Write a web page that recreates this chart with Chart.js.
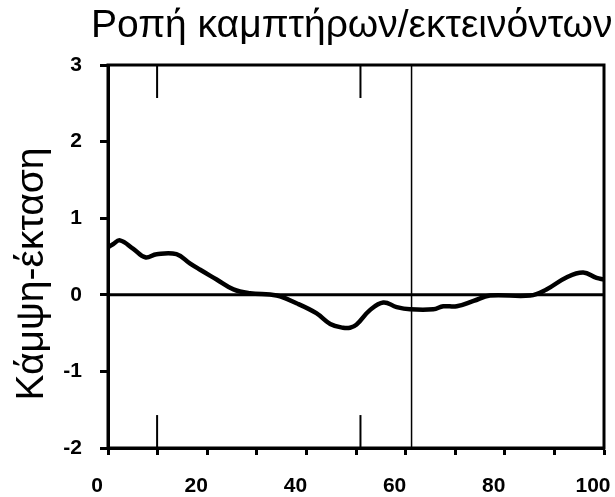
<!DOCTYPE html>
<html>
<head>
<meta charset="utf-8">
<script src="https://cdn.jsdelivr.net/npm/chart.js@4"></script>
<style>
  body { margin: 0; background: #fff; }
  #wrap { width: 615px; height: 497px; }
</style>
</head>
<body>
<div id="wrap"><canvas id="myChart" width="615" height="497"></canvas></div>
<script>
const TITLE = 'Ροπή καμπτήρων/εκτεινόντων';
const Y_TITLE = 'Κάμψη-έκταση';

// curve (% of cycle -> moment)
const cycle = [0, 1, 2.4, 5.1, 7.5, 9.8, 13.8, 16.5, 18.5, 21.9, 25.3, 28.6, 34, 38, 42, 44.8, 47.4, 48.8, 50.1, 52.8, 55.5, 58.2, 60.9, 65.6, 67.6, 70.3, 73.7, 77, 85.1, 88.4, 92.5, 95.8, 98.5, 100];
const moment = [0.62, 0.66, 0.71, 0.60, 0.49, 0.53, 0.53, 0.41, 0.33, 0.20, 0.07, 0.02, -0.01, -0.11, -0.24, -0.38, -0.43, -0.43, -0.39, -0.20, -0.10, -0.16, -0.19, -0.19, -0.15, -0.15, -0.08, -0.01, -0.01, 0.07, 0.23, 0.29, 0.22, 0.20];

// event markers
const shortMarks = [9.9, 50.9];
const markLen = 0.43;
const toeOff = 61.2;

const xTicks = [0, 20, 40, 60, 80, 100];
const yMin = -2, yMax = 3;

const FONT = '"Liberation Sans", Arial, sans-serif';

const draw = () => {
  const datasets = [
    {
      data: cycle.map((x, i) => ({ x: x, y: moment[i] })),
      borderColor: '#000',
      borderWidth: 4.5,
      pointRadius: 0,
      tension: 0.4,
    },
    // zero line
    { data: [{ x: 0, y: 0 }, { x: 100, y: 0 }], borderColor: '#000', borderWidth: 3, pointRadius: 0 },
    // full vertical line
    { data: [{ x: toeOff, y: yMin }, { x: toeOff, y: yMax }], borderColor: '#000', borderWidth: 1.5, pointRadius: 0 },
  ];
  shortMarks.forEach((m) => {
    datasets.push({ data: [{ x: m, y: yMax }, { x: m, y: yMax - markLen }], borderColor: '#000', borderWidth: 2, pointRadius: 0 });
    datasets.push({ data: [{ x: m, y: yMin }, { x: m, y: yMin + markLen }], borderColor: '#000', borderWidth: 2, pointRadius: 0 });
  });

  const texts = {
    id: 'texts',
    afterDraw(chart) {
      const c = chart.ctx;
      const a = chart.chartArea;
      c.save();
      c.strokeStyle = '#000';
      c.lineWidth = 3;
      c.strokeRect(a.left, a.top, a.right - a.left, a.bottom - a.top);
      c.fillStyle = '#000';
      c.font = '39px ' + FONT;
      c.textAlign = 'left';
      c.textBaseline = 'alphabetic';
      c.fillText(TITLE, 91, 37);
      c.translate(43, 274);
      c.rotate(-Math.PI / 2);
      c.textAlign = 'center';
      c.fillText(Y_TITLE, 0, 0);
      c.restore();
    },
  };

  new Chart(document.getElementById('myChart').getContext('2d'), {
    type: 'line',
    data: { datasets: datasets },
    plugins: [texts],
    options: {
      responsive: false,
      animation: false,
      layout: { padding: { top: 65, right: 11, left: 0, bottom: 0 } },
      plugins: { legend: { display: false }, tooltip: { enabled: false } },
      scales: {
        x: {
          type: 'linear',
          min: 0,
          max: 100,
          afterFit: (s) => { s.height = 49; s.paddingLeft = 0; s.paddingRight = 0; },
          afterBuildTicks: (s) => { s.ticks = [0, 10, 20, 30, 40, 50, 60, 70, 80, 90, 100].map((v) => ({ value: v })); },
          ticks: {
            color: '#000',
            padding: 19,
            labelOffset: -11,
            font: { family: FONT, size: 21, weight: 'bold' },
            callback: (v) => (xTicks.includes(v) ? v : ''),
            maxRotation: 0,
            autoSkip: false,
          },
          grid: { drawOnChartArea: false, tickLength: 7, tickWidth: 3, color: '#000' },
          border: { color: '#000', width: 3 },
        },
        y: {
          min: yMin,
          max: yMax,
          afterFit: (s) => { s.width = 108; },
          ticks: {
            stepSize: 1,
            color: '#000',
            padding: 18,
            font: { family: FONT, size: 21, weight: 'bold' },
          },
          grid: { drawOnChartArea: false, tickLength: 8, tickWidth: 3, color: '#000' },
          border: { color: '#000', width: 3 },
        },
      },
    },
  });
};

window.onload = () => {
  draw();
};
</script>
</body>
</html>
